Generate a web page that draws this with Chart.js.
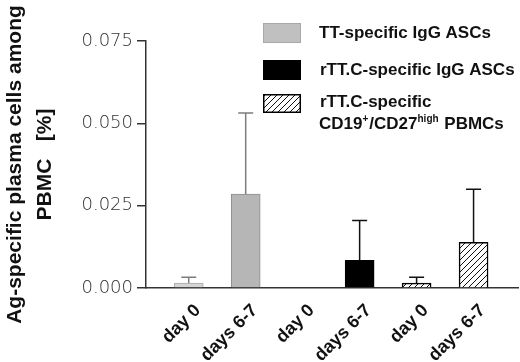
<!DOCTYPE html>
<html><head><meta charset="utf-8">
<script src="https://cdn.jsdelivr.net/npm/chart.js@4/dist/chart.umd.min.js"></script>
<style>html,body{margin:0;padding:0;background:#fff}#wrap{width:520px;height:362px;position:relative}</style>
</head><body><div id="wrap"><canvas id="c"></canvas></div>
<script>
// ---- data ----
const categories = ['day 0', 'days 6-7', 'day 0', 'days 6-7', 'day 0', 'days 6-7'];
const seriesNames = ['TT-specific IgG ASCs', 'rTT.C-specific IgG ASCs', 'rTT.C-specific'];
const seriesNameLine2 = ['CD19', '+', '/CD27', 'high', ' PBMCs'];
const ttMean = [0.0015, 0.0285];
const ttUpper = [0.0033, 0.0531];
const rttMean = [0, 0.0084];
const rttUpper = [null, 0.0205];
const cdMean = [0.0015, 0.0139];
const cdUpper = [0.0033, 0.0300];
const yTicks = [0, 0.025, 0.050, 0.075];
const yTitle = ['Ag-specific plasma cells among', 'PBMC   [%]'];

// hatch pattern
function hatch() {
  const s = 6, cv = document.createElement('canvas');
  cv.width = s; cv.height = s;
  const g = cv.getContext('2d');
  g.fillStyle = '#fff'; g.fillRect(0, 0, s, s);
  g.strokeStyle = '#111'; g.lineWidth = 1;
  g.beginPath();
  g.moveTo(0, s); g.lineTo(s, 0);
  g.moveTo(-1, 1); g.lineTo(1, -1);
  g.moveTo(s - 1, s + 1); g.lineTo(s + 1, s - 1);
  g.stroke();
  return g.createPattern(cv, 'repeat');
}
const ctx = document.getElementById('c').getContext('2d');
const pat = hatch();

const pts = (arr, off) => arr.map((v, i) => ({ x: off + i, y: v }));

const errPlugin = {
  id: 'err',
  afterDatasetsDraw(chart) {
    const c = chart.ctx, ys = chart.scales.y;
    chart.data.datasets.forEach((ds, di) => {
      const meta = chart.getDatasetMeta(di);
      meta.data.forEach((el, i) => {
        const u = ds.upper[i];
        if (u == null) return;
        const yt = ys.getPixelForValue(u);
        c.save();
        c.strokeStyle = ds.errColor; c.lineWidth = 1.5;
        c.beginPath();
        c.moveTo(el.x, el.y); c.lineTo(el.x, yt);
        c.moveTo(el.x - 7.5, yt); c.lineTo(el.x + 7.5, yt);
        c.stroke();
        c.restore();
      });
    });
  }
};

const legendPlugin = {
  id: 'leg',
  afterDraw(chart) {
    const c = chart.ctx;
    c.save();
    const bx = 263, bw = 38;
    c.fillStyle = '#c0c0c0'; c.fillRect(bx, 23, bw, 20);
    c.strokeStyle = '#a8a8a8'; c.lineWidth = 1; c.strokeRect(bx + 0.5, 23.5, bw - 1, 19);
    c.fillStyle = '#000'; c.fillRect(bx, 60, bw, 20);
    c.fillStyle = pat; c.fillRect(bx, 94, bw, 19);
    c.strokeStyle = '#000'; c.lineWidth = 1.5; c.strokeRect(bx + 0.75, 94.75, bw - 1.5, 17.5);
    c.fillStyle = '#111'; c.textBaseline = 'middle'; c.textAlign = 'left';
    const big = 'bold 17px "Liberation Sans", Arial, sans-serif';
    const small = 'bold 10px "Liberation Sans", Arial, sans-serif';
    c.font = big;
    c.fillText(seriesNames[0], 319, 33);
    c.fillText(seriesNames[1], 320, 70);
    c.fillText(seriesNames[2], 320, 102);
    let x = 319;
    seriesNameLine2.forEach((t, i) => {
      const sup = (i === 1 || i === 3);
      c.font = sup ? small : big;
      c.fillText(t, x, sup ? 119 : 124);
      x += c.measureText(t).width + (sup ? 1 : 0);
    });
    c.restore();
  }
};

new Chart(ctx, {
  type: 'bar',
  data: {
    datasets: [
      { label: seriesNames[0], data: pts(ttMean, 0), upper: ttUpper, errColor: '#7d7d7d',
        backgroundColor: ['#d4d4d4', '#b6b6b6'], borderColor: ['#a9a9a9', '#8c8c8c'], borderWidth: 1 },
      { label: seriesNames[1], data: pts(rttMean, 2), upper: rttUpper, errColor: '#111',
        backgroundColor: '#000', borderColor: '#000', borderWidth: 1 },
      { label: seriesNames[2], data: pts(cdMean, 4), upper: cdUpper, errColor: '#111',
        backgroundColor: pat, borderColor: '#000', borderWidth: 1.5 }
    ]
  },
  options: {
    responsive: true, maintainAspectRatio: false, animation: false,
    devicePixelRatio: 1,
    layout: { padding: { top: 41, right: 2, left: 0, bottom: 0 } },
    datasets: { bar: { grouped: false, barThickness: 29, borderSkipped: 'bottom' } },
    plugins: { legend: { display: false }, tooltip: { enabled: false } },
    scales: {
      x: {
        type: 'linear', min: -0.75, max: 5.78, offset: false,
        afterBuildTicks: (s) => { s.ticks = categories.map((_, i) => ({ value: i })); },
        afterFit: (s) => { s.height = 74; },
        grid: { display: false, offset: false },
        border: { display: true, color: '#333', width: 1.5 },
        ticks: {
          callback: (v) => categories[v],
          maxRotation: 45, minRotation: 45, autoSkip: false, padding: 4, labelOffset: 9,
          color: '#111', font: { family: '"Liberation Sans", Arial, sans-serif', size: 18, weight: 'bold' }
        }
      },
      y: {
        min: 0, max: 0.075,
        afterBuildTicks: (s) => { s.ticks = yTicks.map(v => ({ value: v })); },
        afterFit: (s) => { s.width = 146; },
        grid: { display: true, drawOnChartArea: false, drawTicks: true, tickLength: 9, color: '#333', lineWidth: 1.5 },
        border: { display: true, color: '#333', width: 1.5 },
        ticks: {
          callback: (v) => v.toFixed(3), padding: 4, color: '#333',
          font: { family: '"DejaVu Sans", sans-serif', size: 18, weight: '300' }
        },
        title: {
          display: true, text: yTitle, color: '#111', padding: { top: 0, bottom: 0 },
          font: { family: '"Liberation Sans", Arial, sans-serif', size: 21, weight: 'bold', lineHeight: 1.42 }
        }
      }
    }
  },
  plugins: [errPlugin, legendPlugin]
});
</script></body></html>
